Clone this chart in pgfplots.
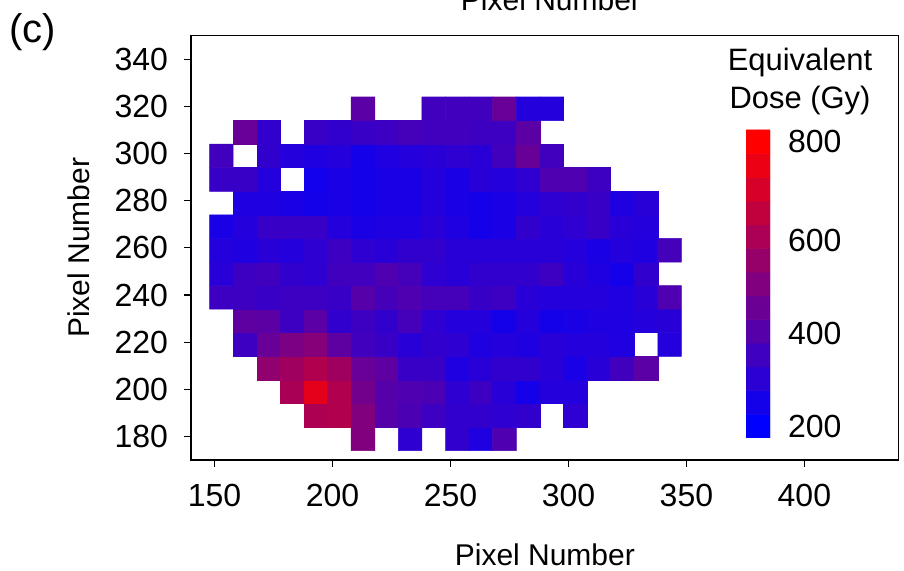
\documentclass[border=0pt]{standalone}
\usepackage{pgfplots}
\pgfplotsset{compat=1.18}
\usepackage{fontspec}
\setmainfont{Liberation Sans}
\newcommand{\lab}{\fontsize{22.5}{27}\selectfont}
\newcommand{\tik}{\fontsize{24}{28}\selectfont}
\pgfplotsset{
  colormap={br}{rgb255=(0,0,255) rgb255=(255,0,0)},
  /pgf/number format/assume math mode=true,
}
\begin{document}
\begin{tikzpicture}
\path[use as bounding box, clip] (0,0) rectangle (678pt,428.25pt);
\begin{axis}[
  at={(143.25pt,83.25pt)}, anchor=south west,
  scale only axis, width=530.8pt, height=318.2pt,
  xmin=140, xmax=440, ymin=170, ymax=350,
  xtick={150,200,250,300,350,400},
  ytick={180,200,220,240,260,280,300,320,340},
  tick align=outside, xtick pos=bottom, ytick pos=left,
  major tick length=5.25pt,
  tick style={black, line width=0.9pt},
  axis line style={line width=1.1pt},
  tick label style={font=\tik},
  xticklabel style={yshift=-9pt},
  yticklabel style={xshift=-8.5pt},
  /pgf/number format/1000 sep={},
  xlabel={Pixel Number}, ylabel={Pixel Number},
  label style={font=\lab},
  xlabel style={at={(0.5,0)},anchor=base,yshift=-79pt},
  ylabel style={at={(0,0.5)},anchor=base,rotate=0,yshift=76.5pt},
  colormap name=br, point meta min=185, point meta max=800,
  clip=true,
]
\addplot[matrix plot*, mesh/cols=20, point meta=explicit] table[x=x,y=y,meta=v,row sep=\\]{
x y v\\
152.9 179 nan\\162.9 179 nan\\172.9 179 nan\\182.9 179 nan\\192.9 179 nan\\202.9 179 nan\\212.9 179 495\\222.9 179 nan\\232.9 179 295\\242.9 179 nan\\252.9 179 305\\262.9 179 260\\272.9 179 375\\282.9 179 nan\\292.9 179 nan\\302.9 179 nan\\312.9 179 nan\\322.9 179 nan\\332.9 179 nan\\342.9 179 nan\\
152.9 189 nan\\162.9 189 nan\\172.9 189 nan\\182.9 189 nan\\192.9 189 600\\202.9 189 610\\212.9 189 495\\222.9 189 390\\232.9 189 365\\242.9 189 330\\252.9 189 305\\262.9 189 305\\272.9 189 295\\282.9 189 305\\292.9 189 nan\\302.9 189 295\\312.9 189 nan\\322.9 189 nan\\332.9 189 nan\\342.9 189 nan\\
152.9 199 nan\\162.9 199 nan\\172.9 199 nan\\182.9 199 590\\192.9 199 730\\202.9 199 610\\212.9 199 460\\222.9 199 390\\232.9 199 375\\242.9 199 365\\252.9 199 295\\262.9 199 330\\272.9 199 280\\282.9 199 235\\292.9 199 270\\302.9 199 270\\312.9 199 nan\\322.9 199 nan\\332.9 199 nan\\342.9 199 nan\\
152.9 209 nan\\162.9 209 nan\\172.9 209 530\\182.9 209 565\\192.9 209 610\\202.9 209 565\\212.9 209 435\\222.9 209 410\\232.9 209 320\\242.9 209 320\\252.9 209 260\\262.9 209 280\\272.9 209 305\\282.9 209 305\\292.9 209 280\\302.9 209 247\\312.9 209 280\\322.9 209 340\\332.9 209 400\\342.9 209 nan\\
152.9 219 nan\\162.9 219 330\\172.9 219 435\\182.9 219 480\\192.9 219 505\\202.9 219 410\\212.9 219 340\\222.9 219 320\\232.9 219 280\\242.9 219 305\\252.9 219 295\\262.9 219 260\\272.9 219 270\\282.9 219 260\\292.9 219 280\\302.9 219 270\\312.9 219 270\\322.9 219 260\\332.9 219 nan\\342.9 219 270\\
152.9 229 nan\\162.9 229 410\\172.9 229 400\\182.9 229 330\\192.9 229 400\\202.9 229 305\\212.9 229 330\\222.9 229 305\\232.9 229 350\\242.9 229 295\\252.9 229 270\\262.9 229 270\\272.9 229 235\\282.9 229 270\\292.9 229 235\\302.9 229 247\\312.9 229 260\\322.9 229 260\\332.9 229 270\\342.9 229 280\\
152.9 239 330\\162.9 239 330\\172.9 239 320\\182.9 239 330\\192.9 239 330\\202.9 239 320\\212.9 239 390\\222.9 239 350\\232.9 239 375\\242.9 239 350\\252.9 239 350\\262.9 239 320\\272.9 239 330\\282.9 239 280\\292.9 239 270\\302.9 239 270\\312.9 239 270\\322.9 239 260\\332.9 239 280\\342.9 239 375\\
152.9 249 280\\162.9 249 330\\172.9 249 340\\182.9 249 305\\192.9 249 295\\202.9 249 340\\212.9 249 340\\222.9 249 375\\232.9 249 350\\242.9 249 295\\252.9 249 280\\262.9 249 305\\272.9 249 305\\282.9 249 305\\292.9 249 330\\302.9 249 280\\312.9 249 260\\322.9 249 235\\332.9 249 305\\342.9 249 nan\\
152.9 259 270\\162.9 259 260\\172.9 259 280\\182.9 259 270\\192.9 259 295\\202.9 259 330\\212.9 259 295\\222.9 259 280\\232.9 259 305\\242.9 259 305\\252.9 259 280\\262.9 259 280\\272.9 259 280\\282.9 259 280\\292.9 259 280\\302.9 259 270\\312.9 259 247\\322.9 259 270\\332.9 259 260\\342.9 259 350\\
152.9 269 247\\162.9 269 270\\172.9 269 320\\182.9 269 320\\192.9 269 320\\202.9 269 270\\212.9 269 247\\222.9 269 260\\232.9 269 260\\242.9 269 280\\252.9 269 260\\262.9 269 235\\272.9 269 247\\282.9 269 305\\292.9 269 280\\302.9 269 295\\312.9 269 320\\322.9 269 280\\332.9 269 270\\342.9 269 nan\\
152.9 279 nan\\162.9 279 260\\172.9 279 260\\182.9 279 247\\192.9 279 235\\202.9 279 247\\212.9 279 235\\222.9 279 247\\232.9 279 247\\242.9 279 270\\252.9 279 247\\262.9 279 235\\272.9 279 247\\282.9 279 270\\292.9 279 295\\302.9 279 305\\312.9 279 320\\322.9 279 260\\332.9 279 280\\342.9 279 nan\\
152.9 289 320\\162.9 289 320\\172.9 289 270\\182.9 289 nan\\192.9 289 230\\202.9 289 247\\212.9 289 235\\222.9 289 247\\232.9 289 247\\242.9 289 270\\252.9 289 247\\262.9 289 280\\272.9 289 270\\282.9 289 295\\292.9 289 375\\302.9 289 375\\312.9 289 330\\322.9 289 nan\\332.9 289 nan\\342.9 289 nan\\
152.9 299 340\\162.9 299 nan\\172.9 299 305\\182.9 299 270\\192.9 299 260\\202.9 299 270\\212.9 299 235\\222.9 299 260\\232.9 299 270\\242.9 299 280\\252.9 299 295\\262.9 299 280\\272.9 299 340\\282.9 299 435\\292.9 299 340\\302.9 299 nan\\312.9 299 nan\\322.9 299 nan\\332.9 299 nan\\342.9 299 nan\\
152.9 309 nan\\162.9 309 435\\172.9 309 305\\182.9 309 nan\\192.9 309 320\\202.9 309 305\\212.9 309 320\\222.9 309 330\\232.9 309 350\\242.9 309 340\\252.9 309 340\\262.9 309 330\\272.9 309 330\\282.9 309 400\\292.9 309 nan\\302.9 309 nan\\312.9 309 nan\\322.9 309 nan\\332.9 309 nan\\342.9 309 nan\\
152.9 319 nan\\162.9 319 nan\\172.9 319 nan\\182.9 319 nan\\192.9 319 nan\\202.9 319 nan\\212.9 319 400\\222.9 319 nan\\232.9 319 nan\\242.9 319 340\\252.9 319 340\\262.9 319 340\\272.9 319 435\\282.9 319 270\\292.9 319 270\\302.9 319 nan\\312.9 319 nan\\322.9 319 nan\\332.9 319 nan\\342.9 319 nan\\
};
\end{axis}
\begin{axis}[
  at={(559.5pt,99.75pt)}, anchor=south west,
  scale only axis, width=18pt, height=231pt,
  xmin=-0.5, xmax=1.5, ymin=175, ymax=825,
  xtick=\empty, ytick={200,396,591,800}, yticklabels={200,400,600,800},
  ytick pos=right, major tick length=0pt,
  axis line style={draw=none},
  tick label style={font=\tik},
  yticklabel style={xshift=10pt},
  colormap name=br, point meta min=200, point meta max=800,
]
\addplot[matrix plot*, mesh/cols=2, point meta=explicit] table[x=x,y=y,meta=v,row sep=\\]{
x y v\\
0 200 200\\1 200 200\\0 250 250\\1 250 250\\0 300 300\\1 300 300\\0 350 350\\1 350 350\\0 400 400\\1 400 400\\0 450 450\\1 450 450\\0 500 500\\1 500 500\\0 550 550\\1 550 550\\0 600 600\\1 600 600\\0 650 650\\1 650 650\\0 700 700\\1 700 700\\0 750 750\\1 750 750\\0 800 800\\1 800 800\\
};
\end{axis}
\node[font=\lab,anchor=base] at (413.25pt,420pt) {Pixel Number};
\node[font=\fontsize{23.2}{27}\selectfont,anchor=base] at (600pt,375pt) {Equivalent};
\node[font=\fontsize{23.2}{27}\selectfont,anchor=base] at (600pt,347pt) {Dose (Gy)};
\node[font=\fontsize{30}{34}\selectfont,anchor=base] at (24.5pt,396pt) {(c)};
\end{tikzpicture}
\end{document}
